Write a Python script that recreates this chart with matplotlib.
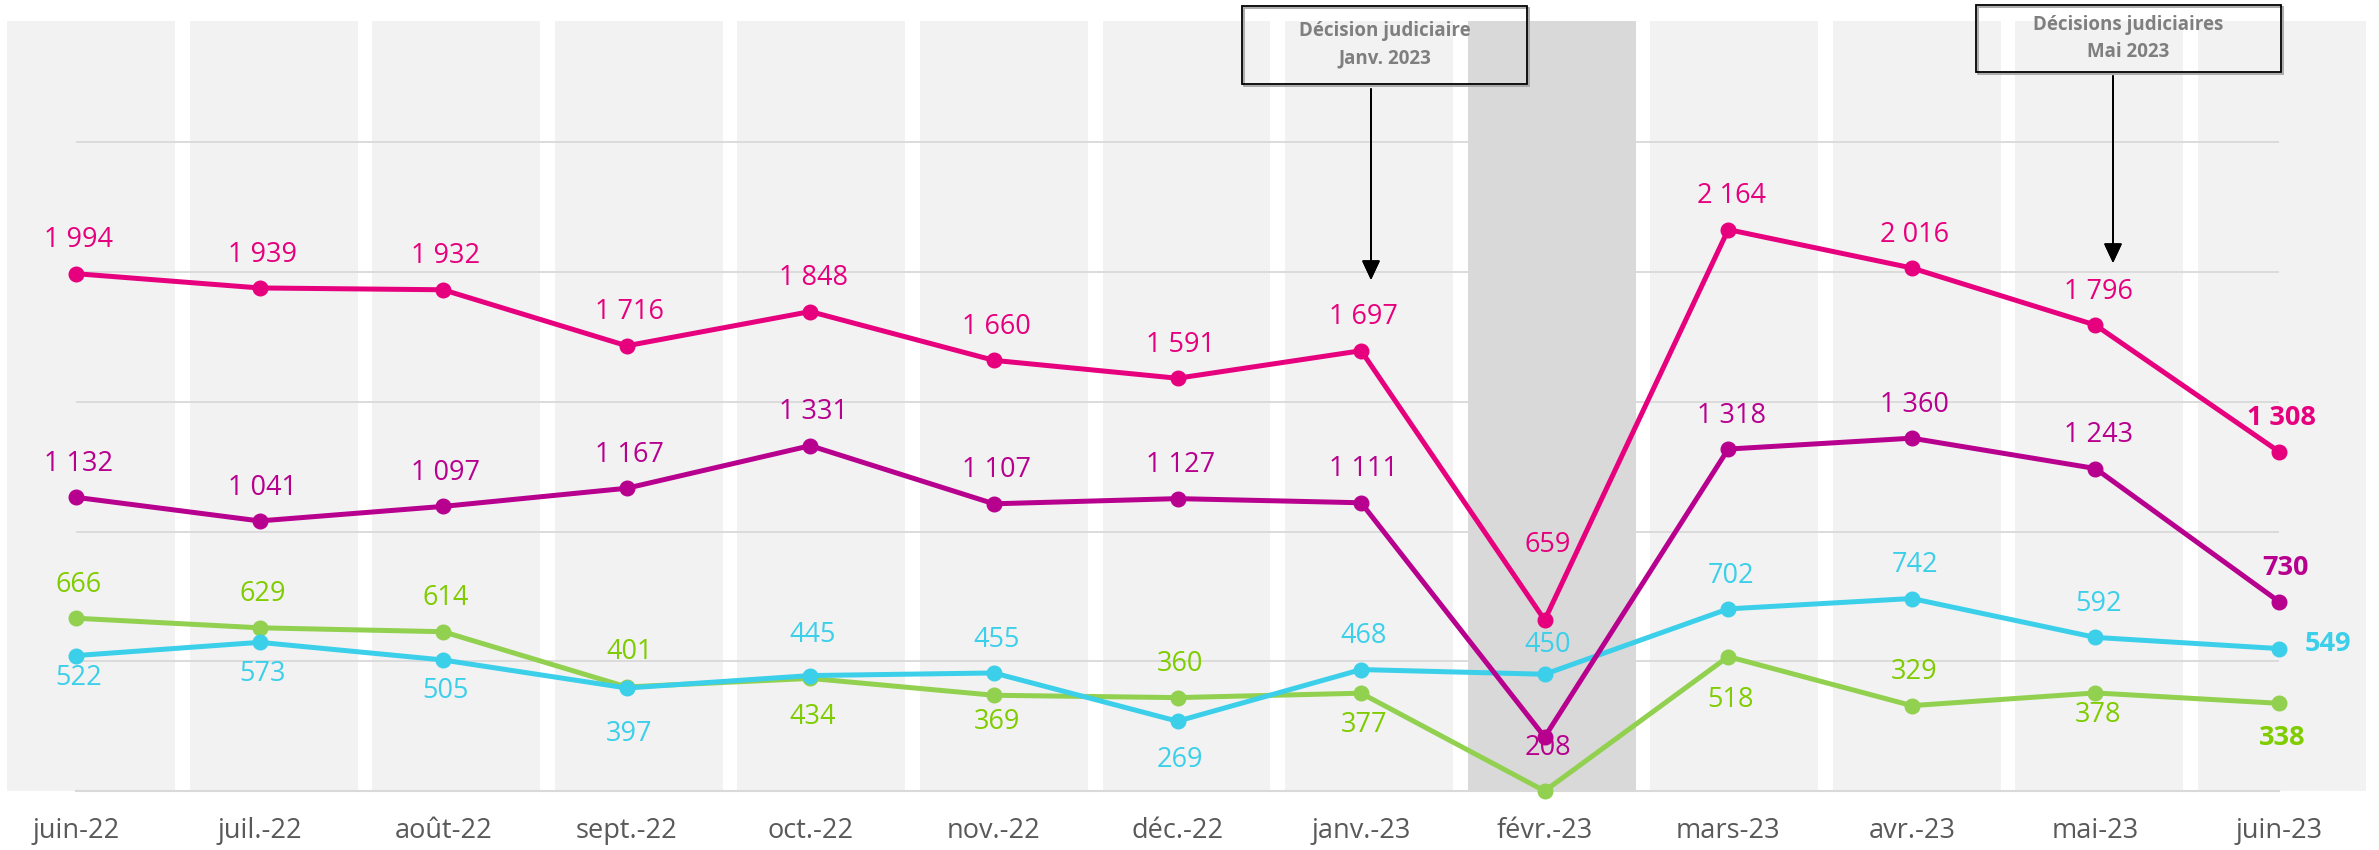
import numpy as np
import matplotlib.pyplot as plt
from matplotlib.patches import Rectangle

plt.rcParams['font.family'] = ['Open Sans', 'DejaVu Sans']

months = ['juin-22', 'juil.-22', 'août-22', 'sept.-22', 'oct.-22', 'nov.-22', 'déc.-22',
          'janv.-23', 'févr.-23', 'mars-23', 'avr.-23', 'mai-23', 'juin-23']
pink = [1994, 1939, 1932, 1716, 1848, 1660, 1591, 1697, 659, 2164, 2016, 1796, 1308]
purple = [1132, 1041, 1097, 1167, 1331, 1107, 1127, 1111, 208, 1318, 1360, 1243, 730]
cyan = [522, 573, 505, 397, 445, 455, 269, 468, 450, 702, 742, 592, 549]
green = [666, 629, 614, 401, 434, 369, 360, 377, 0, 518, 329, 378, 338]
highlight = 'févr.-23'
notes = ['Décision judiciaire\nJanv. 2023', 'Décisions judiciaires\nMai 2023']

# label offsets (points), above = positive
pink_dy = [24] * 8 + [54] + [24] * 4
purple_dy = [24] * 8 + [-8] + [24] * 4
cyan_dy = [-16, -23, -22, -33, 29, 24, -28, 24, 21, 24, 24, 24, 3]
green_dy = [24, 24, 24, 25, -28, -19, 24, -23, None, -31, 24, -16, -25]

series = [
    (green, '#92d050', '#7fcc00', green_dy),
    (cyan, '#3ccfea', '#3ccfea', cyan_dy),
    (purple, '#b8008f', '#b8008f', purple_dy),
    (pink, '#e6007e', '#e6007e', pink_dy),
]

W, H = 2379, 850
fig = plt.figure(figsize=(W / 100, H / 100), dpi=100)
ymax = 2968
bottom = 1 - 791 / H
height = (791 - 21) / H

x = np.arange(len(months))

# background columns
ax_bg = fig.add_axes([0, bottom, 2373 / W, height])
bar_colors = ['#d9d9d9' if m == highlight else '#f2f2f2' for m in months]
ax_bg.bar(x, ymax, width=0.92, color=bar_colors)
ax_bg.set_xlim(-0.5, len(months) - 0.5)
ax_bg.set_ylim(0, ymax)
ax_bg.axis('off')

ax = fig.add_axes([76 / W, bottom, (2279 - 76) / W, height])
ax.patch.set_alpha(0)
ax.set_xlim(0, len(months) - 1)
ax.set_ylim(0, ymax)
ax.set_yticks(np.arange(0, 3000, 500))
ax.yaxis.grid(True, color='#d9d9d9', lw=1.3)
ax.set_axisbelow(True)
ax.tick_params(axis='y', left=False, labelleft=False)
for s in ['top', 'right', 'left']:
    ax.spines[s].set_visible(False)
ax.spines['bottom'].set_color('#d9d9d9')
ax.spines['bottom'].set_linewidth(1.5)
ax.set_xticks(x)
ax.set_xticklabels(months, fontsize=19.5, color='#595959')
ax.tick_params(axis='x', length=0, pad=19)

for vals, lc, tc, dys in series:
    ax.plot(x, vals, color=lc, lw=3.6, marker='o', ms=10.5, clip_on=False, zorder=3)
    for i, v in enumerate(vals):
        if dys[i] is None:
            continue
        last = i == len(vals) - 1
        dx = 2
        if last and vals is cyan:
            dx = 35
        elif last and vals is purple:
            dx = 5
        ax.annotate(f'{v:,}'.replace(',', ' '), (i, v), xytext=(dx, dys[i]),
                    textcoords='offset points', ha='center', va='center',
                    color=tc, fontsize=19.5, fontweight='bold' if last else 'normal',
                    zorder=4)


def px(xp, yp):
    return xp / W, 1 - yp / H


# annotation boxes with arrows
boxes = [(1242, 6, 285, 78, 1371, 89, 280), (1976, 5, 305, 67, 2113, 76, 263)]
for txt, (bx, by, bw, bh, axp, ay0, ay1) in zip(notes, boxes):
    # light shadow edge, then the box itself
    fig.patches.append(Rectangle(px(bx + 1.5, by + bh + 2), bw / W, bh / H,
                                 transform=fig.transFigure, fill=False,
                                 edgecolor='#a6a6a6', lw=1.3))
    fig.patches.append(Rectangle(px(bx, by + bh), bw / W, bh / H, transform=fig.transFigure,
                                 fill=False, edgecolor='black', lw=1.3))
    cx, cy = px(bx + bw / 2, by + bh / 2)
    fig.text(cx, cy, txt, ha='center', va='center', fontsize=13.5, fontweight='bold',
             color='#7f7f7f', linespacing=1.5)
    fig.add_artist(plt.annotate('', xy=px(axp, ay1), xytext=px(axp, ay0),
                                xycoords='figure fraction', textcoords='figure fraction',
                                arrowprops=dict(arrowstyle='-|>,head_length=0.6,head_width=0.28',
                                                mutation_scale=20, color='black', lw=1.3,
                                                shrinkA=0, shrinkB=0)))

fig.savefig('out.png', dpi=100)
